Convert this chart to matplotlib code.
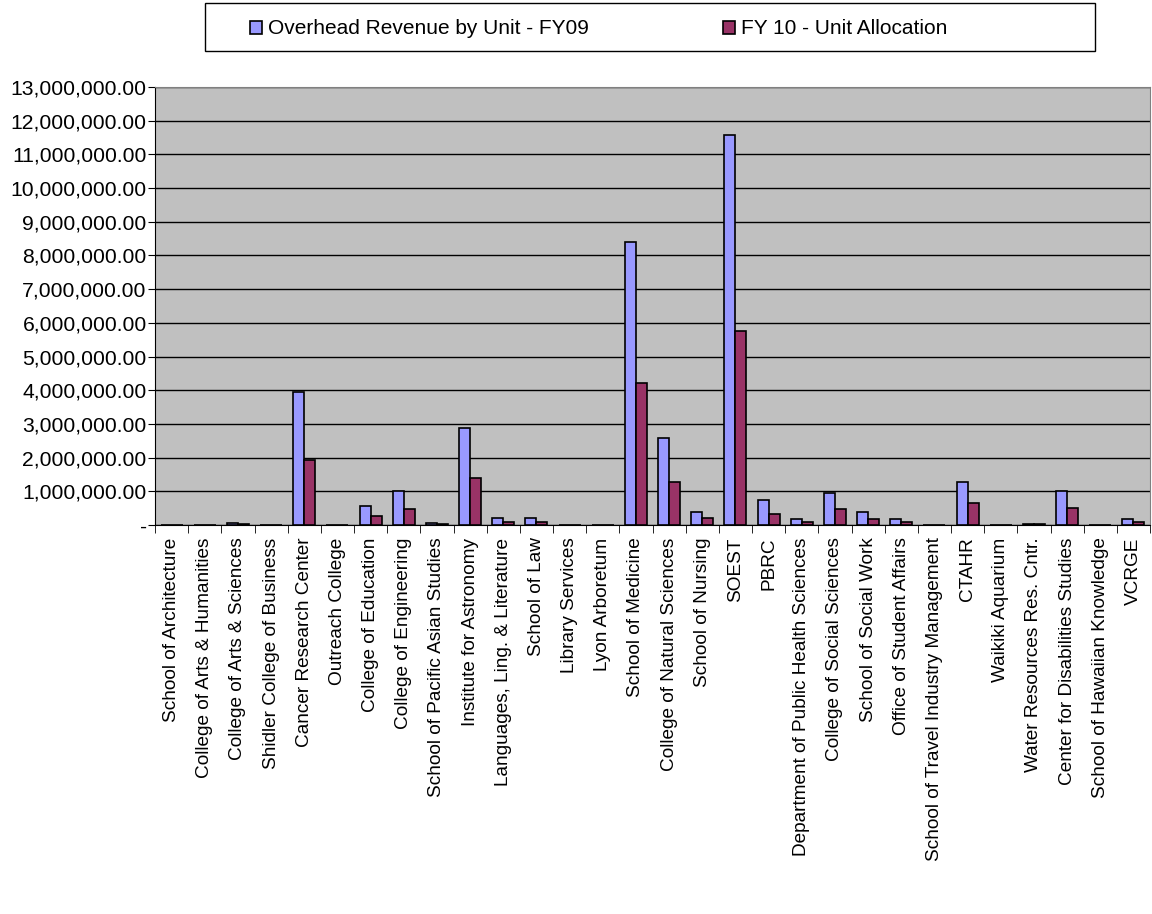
import numpy as np
import matplotlib.pyplot as plt
from matplotlib.patches import Rectangle
from matplotlib.ticker import FuncFormatter, FixedLocator

plt.rcParams['font.family'] = ['Liberation Sans', 'DejaVu Sans']

units = [
    "School of Architecture", "College of Arts & Humanities", "College of Arts & Sciences",
    "Shidler College of Business", "Cancer Research Center", "Outreach College",
    "College of Education", "College of Engineering", "School of Pacific Asian Studies",
    "Institute for Astronomy", "Languages, Ling. & Literature", "School of Law",
    "Library Services", "Lyon Arboretum", "School of Medicine", "College of Natural Sciences",
    "School of Nursing", "SOEST", "PBRC", "Department of Public Health Sciences",
    "College of Social Sciences", "School of Social Work", "Office of Student Affairs",
    "School of Travel Industry Management", "CTAHR", "Waikiki Aquarium",
    "Water Resources Res. Cntr.", "Center for Disabilities Studies",
    "School of Hawaiian Knowledge", "VCRGE",
]

fy09 = [0, 0, 50000, 0, 3950000, 0, 570000, 1000000, 50000, 2870000,
        220000, 220000, 0, 0, 8400000, 2570000, 400000, 11570000, 740000, 170000,
        940000, 400000, 170000, 0, 1290000, 0, 40000, 1000000, 0, 170000]
fy10 = [0, 0, 25000, 0, 1930000, 0, 270000, 470000, 40000, 1390000,
        100000, 100000, 0, 0, 4210000, 1290000, 200000, 5760000, 340000, 100000,
        470000, 170000, 100000, 0, 640000, 0, 30000, 510000, 0, 100000]

x = np.arange(len(units))
w = 0.33

W, H = 1152, 914
fig = plt.figure(figsize=(W / 100, H / 100), dpi=100)
ax = fig.add_axes([155 / W, 1 - 525 / H, 995 / W, 438 / H])
ax.set_facecolor('#C0C0C0')

b1 = ax.bar(x - w / 2, fy09, w, color='#9999FF', edgecolor='black', linewidth=1.2,
            label='Overhead Revenue by Unit - FY09', zorder=3)
b2 = ax.bar(x + w / 2, fy10, w, color='#993366', edgecolor='black', linewidth=1.2,
            label='FY 10 - Unit Allocation', zorder=3)

ax.set_xlim(-0.5, len(units) - 0.5)
ax.set_ylim(0, 13000000)
ax.set_yticks(np.arange(0, 13000001, 1000000))
ax.yaxis.set_major_formatter(FuncFormatter(lambda v, p: '-' if v == 0 else f'{v:,.2f}'))
ax.grid(axis='y', color='black', linewidth=1, zorder=1)

ax.set_xticks(x)
ax.set_xticklabels(units, rotation=90, fontsize=13.7)
ax.tick_params(axis='x', which='major', length=0, pad=9)
ax.xaxis.set_minor_locator(FixedLocator(np.arange(-0.5, len(units), 1)))
ax.tick_params(axis='x', which='minor', length=6, color='black')
ax.tick_params(axis='y', labelsize=15.2, length=5, pad=1)

for s in ['top', 'right']:
    ax.spines[s].set_color('#808080')
for s in ['left', 'bottom']:
    ax.spines[s].set_color('black')

# legend box drawn separately so it spans the same width as in the original
fig.patches.append(Rectangle((205 / W, 1 - 51 / H), 890 / W, 48 / H,
                             transform=fig.transFigure, facecolor='white',
                             edgecolor='black', linewidth=1, zorder=0))
leg = fig.legend(handles=[b1, b2], loc='center left', bbox_to_anchor=(233 / W, 1 - 29 / H),
                 ncol=2, fontsize=15, frameon=False,
                 handlelength=0.6, handleheight=0.6, handletextpad=0.3, columnspacing=6.4,
                 borderpad=0.3)

fig.savefig('out.png', dpi=100)
